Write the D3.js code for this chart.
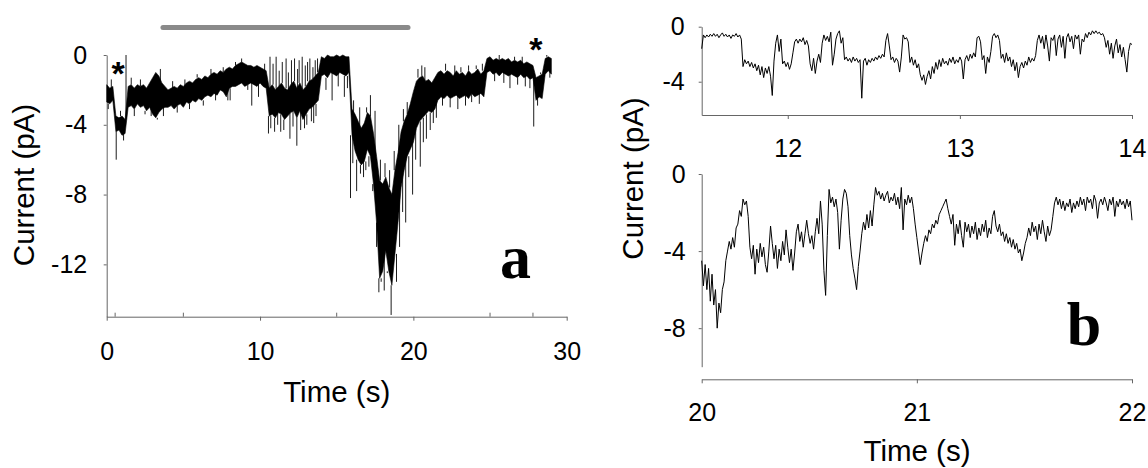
<!DOCTYPE html>
<html>
<head>
<meta charset="UTF-8">
<title>Current traces</title>
<script src="https://d3js.org/d3.v7.min.js"></script>
<style>
  body { margin: 0; background: #fff; }
  svg text { font-family: "Liberation Sans", Arial, sans-serif; fill: #000; }
  .panel-letter { font-family: "Liberation Serif", "Times New Roman", serif; font-weight: bold; }
</style>
</head>
<body>
<svg id="fig" width="1148" height="468"></svg>
<script>
const aStart = 0, aEnd = 29;
const aHigh = [
  -1.7,-1.9,-1.8,-3.5,-3.6,-3.5,-3.7,-1.8,-1.7,-1.9,
  -1.7,-1.8,-1.7,-1.9,-1.6,-1.3,-1.0,-1.2,-1.6,-1.8,
  -2.0,-1.9,-1.8,-1.9,-1.7,-1.8,-1.6,-1.5,-1.6,-1.4,
  -1.3,-1.4,-1.2,-1.3,-1.1,-1.0,-1.1,-0.9,-1.0,-0.8,
  -0.7,-0.8,-0.6,-0.5,-0.4,-0.5,-0.6,-0.6,-0.7,-0.6,
  -0.7,-0.8,-0.9,-1.9,-1.7,-2.0,-1.8,-1.6,-1.9,-2.0,
  -1.7,-1.5,-1.9,-1.6,-2.0,-1.8,-1.5,-1.4,-1.2,-1.0,
  -0.1,-0.2,0.0,-0.1,-0.1,0.0,-0.1,0.0,-0.1,-0.1,
  -3.1,-3.4,-3.8,-4.2,-3.9,-3.3,-3.5,-4.5,-5.8,-7.2,
  -7.4,-7.0,-7.6,-8.0,-6.6,-5.6,-4.4,-3.8,-3.4,-2.8,
  -2.1,-1.5,-1.3,-1.2,-1.5,-1.4,-1.6,-1.3,-1.0,-0.9,
  -1.1,-0.9,-1.0,-1.2,-0.9,-1.1,-1.0,-1.2,-0.9,-1.1,
  -1.0,-0.8,-1.1,-0.9,-0.2,-0.1,-0.3,-0.2,-0.3,-0.2,
  -0.3,-0.2,-0.4,-0.3,-0.4,-0.3,-0.5,-0.4,-0.5,-0.6,
  -1.3,-1.2,-1.1,-0.2,-0.1,-0.2
];
const aLow = [
  -2.7,-2.8,-2.6,-4.4,-4.3,-4.6,-4.5,-3.0,-2.9,-3.1,
  -2.8,-3.0,-2.9,-3.2,-3.0,-3.4,-3.6,-3.3,-3.1,-3.0,
  -3.0,-2.9,-3.1,-2.9,-2.8,-3.0,-2.7,-2.8,-2.6,-2.7,
  -2.5,-2.6,-2.4,-2.3,-2.4,-2.2,-2.3,-2.0,-2.1,-2.4,
  -1.9,-1.8,-1.8,-1.7,-1.6,-1.8,-1.7,-1.6,-1.7,-1.8,
  -1.6,-1.8,-1.9,-3.5,-3.4,-3.6,-3.3,-3.4,-3.7,-3.5,
  -3.3,-3.2,-3.6,-3.2,-3.7,-3.4,-3.1,-3.0,-2.8,-2.6,
  -1.2,-1.1,-1.3,-1.0,-1.1,-1.2,-1.0,-1.1,-1.2,-1.0,
  -4.6,-5.5,-6.0,-6.3,-6.1,-5.4,-5.8,-7.4,-9.6,-12.8,
  -12.4,-11.2,-12.4,-13.2,-11.4,-9.6,-7.6,-6.6,-5.8,-5.4,
  -5.0,-4.2,-3.8,-3.6,-3.4,-3.2,-3.3,-3.1,-2.6,-2.4,
  -2.5,-2.3,-2.5,-2.4,-2.3,-2.5,-2.4,-2.3,-2.5,-2.2,
  -2.4,-2.3,-2.2,-2.4,-1.0,-0.9,-1.1,-1.0,-1.2,-1.0,
  -1.1,-1.2,-1.1,-1.2,-1.3,-1.1,-1.3,-1.2,-1.4,-1.3,
  -2.6,-2.4,-2.5,-1.1,-0.9,-1.1
];
// single large excursions sticking out of the band
const aSpikeT = [
  0.1,0.3,0.62,0.9,1.1,1.26,1.6,1.8,2.2,2.5,
  2.9,3.3,3.5,3.7,4.3,4.6,5.1,5.4,5.9,6.3,
  6.8,7.1,7.6,7.9,8.05,8.4,8.8,9.2,9.46,9.9,
  10.3,10.55,10.65,10.7,10.85,10.95,11.05,11.15,11.25,11.35,
  11.45,11.55,11.7,11.85,11.95,12.05,12.15,12.25,12.4,12.45,
  12.55,12.65,12.75,12.9,12.95,13.05,13.1,13.25,13.35,13.45,
  13.5,13.6,13.65,13.75,14.3,14.7,15.1,15.5,15.7,15.9,
  16.05,16.1,16.3,16.5,16.55,16.75,16.9,16.95,17.1,17.2,
  17.35,17.5,17.6,17.75,17.85,17.9,18.1,18.15,18.3,18.45,
  18.55,18.7,18.75,18.9,19.05,19.1,19.3,19.35,19.5,19.6,
  19.7,19.95,20.15,20.3,20.45,20.55,20.65,20.75,20.85,21.1,
  21.3,21.5,21.9,22.1,22.4,22.7,22.9,23.1,23.4,23.6,
  23.8,24.1,24.3,24.5,25.3,25.6,25.9,26.3,26.6,26.8,
  27.1,27.3,27.6,27.85,28.1,28.3,28.7,28.9
];
const aSpikeV = [
  -3.1,-1.4,-6.0,-3.2,-4.9,0.0,-1.3,-3.5,-1.4,-3.4,
  -3.5,-3.7,-0.8,-3.5,-1.5,-3.3,-1.4,-3.1,-1.1,-2.9,
  -0.8,-2.6,-0.7,-2.6,-2.6,-0.4,-0.2,-2.0,-2.9,-2.4,
  -0.5,-4.5,-0.1,-4.2,-0.5,-4.4,-0.1,-4.0,-0.9,-4.4,
  -0.4,-4.3,-0.2,-1.0,-4.8,-0.3,-4.1,-0.2,-5.2,-0.8,
  -0.3,-4.3,-0.1,-4.2,-0.6,-4.0,-0.4,-0.2,-3.8,-0.7,
  -3.9,-0.3,-3.5,-0.2,-2.0,-2.6,-1.8,-2.4,-1.9,-8.2,
  -6.2,-2.6,-7.8,-3.0,-6.8,-7.0,-6.6,-3.0,-6.4,-2.3,
  -7.8,-3.2,-11.0,-13.6,-6.0,-13.0,-13.5,-6.2,-12.5,-6.6,
  -14.9,-13.2,-5.5,-13.0,-4.0,-11.0,-9.0,-3.1,-9.6,-2.7,
  -7.0,-8.0,-6.0,-0.8,-6.4,-0.6,-5.0,-0.7,-4.8,-4.3,
  -3.9,-3.6,-2.9,-0.5,-3.0,-0.6,-3.1,-0.7,-2.9,-0.6,
  -2.7,-0.6,-2.8,-0.5,-1.5,0.0,-1.6,-1.9,-0.1,-1.7,
  -0.1,-1.8,-1.9,-4.1,-2.9,-1.0,0.0,-1.3
];
const aBar = [3.67, 19.65];          // grey application bar (s)
const aEvents = [0.55, 27.8];        // asterisk events (s)
const aXTicks = [0, 10, 20, 30];
const aXMinor = [5, 15, 25];
const aYTicks = [0, -4, -8, -12];

// ---------- panel b (top) : 11.5 - 14 s, 0.01 s samples ----------
const bTopStart = 11.5, bTopEnd = 14;
const bTopV = [
  -1.6,-0.6,-0.8,-0.6,-0.75,-0.55,-0.7,-0.5,-0.7,-0.55,
  -0.8,-0.6,-0.45,-0.7,-0.55,-0.75,-0.6,-0.85,-0.6,-0.7,
  -0.5,-0.75,-0.6,-0.9,-2.9,-2.4,-2.7,-2.5,-2.9,-2.6,
  -3.0,-2.7,-3.2,-2.8,-3.5,-2.9,-3.7,-3.0,-3.4,-2.9,
  -3.6,-5.0,-2.5,-1.2,-0.6,-1.8,-0.9,-2.7,-2.5,-2.9,
  -2.6,-3.1,-2.7,-1.9,-1.1,-0.9,-1.2,-0.9,-1.1,-0.8,
  -1.3,-1.0,-1.4,-2.7,-3.2,-2.3,-3.4,-2.5,-2.0,-2.6,
  -1.2,-0.6,-1.0,-0.7,-1.1,-0.4,-2.8,-2.0,-0.9,-0.5,
  -0.3,-1.2,-0.8,-2.4,-2.2,-2.5,-2.3,-2.6,-2.2,-2.5,
  -2.3,-2.6,-2.4,-5.2,-2.5,-2.3,-2.8,-2.4,-2.6,-2.3,
  -2.5,-2.2,-2.4,-2.1,-2.3,-2.0,-2.2,-1.0,-0.5,-1.4,
  -2.4,-2.2,-2.6,-2.3,-2.5,-3.3,-2.2,-0.6,-0.9,-0.8,
  -1.1,-2.6,-2.2,-2.8,-2.4,-3.0,-2.7,-3.5,-3.9,-3.5,
  -4.2,-3.6,-3.2,-3.8,-2.9,-3.4,-2.6,-3.1,-2.4,-2.9,
  -2.3,-2.7,-2.5,-2.8,-2.3,-2.6,-2.2,-2.7,-2.4,-2.6,
  -2.2,-2.5,-3.8,-2.4,-2.1,-2.5,-2.0,-2.3,-1.9,-2.2,
  -0.8,-0.7,-1.1,-2.4,-2.1,-3.4,-2.2,-2.6,-1.8,-0.7,
  -0.5,-0.8,-0.6,-1.0,-2.3,-2.0,-2.6,-1.9,-2.5,-2.2,
  -2.9,-2.4,-3.2,-2.6,-3.7,-2.9,-2.6,-3.0,-2.5,-2.8,
  -2.2,-2.6,-2.3,-2.5,-2.1,-1.0,-0.6,-1.2,-0.7,-1.6,
  -0.6,-1.4,-2.5,-0.8,-1.0,-0.6,-2.1,-0.9,-0.6,-1.5,
  -0.7,-2.3,-0.8,-0.5,-1.1,-0.7,-1.6,-0.6,-0.9,-0.6,
  -2.0,-0.9,-1.1,-0.5,-0.8,-0.4,-0.6,-0.3,-0.5,-0.3,
  -0.5,-0.4,-0.6,-0.5,-0.8,-1.5,-1.0,-2.0,-1.2,-2.3,
  -1.4,-0.9,-1.9,-1.3,-2.2,-1.5,-2.4,-3.3,-1.8,-1.2,
  -1.3
];
const bTopXTicks = [12, 13, 14];
const bTopYTicks = [0, -4];

// ---------- panel b (bottom) : 20 - 22 s, 0.008 s samples ----------
const bBotStart = 20, bBotEnd = 22;
const bBotV = [
  -4.5,-5.8,-4.7,-6.0,-4.9,-6.6,-5.2,-6.8,-6.0,-8.0,
  -6.7,-7.2,-6.0,-5.6,-4.5,-4.0,-3.5,-3.9,-3.3,-3.8,
  -2.8,-2.6,-1.9,-2.2,-1.3,-1.6,-1.4,-2.2,-3.8,-4.4,
  -3.7,-5.2,-3.9,-4.6,-3.6,-4.3,-3.8,-4.7,-5.1,-4.0,
  -2.7,-3.6,-4.4,-3.7,-4.9,-3.9,-4.5,-3.5,-4.2,-2.9,
  -3.8,-4.6,-3.9,-5.0,-4.1,-3.0,-2.6,-3.5,-3.0,-3.8,
  -3.1,-2.4,-3.1,-3.6,-3.2,-3.9,-3.0,-2.3,-3.1,-1.4,
  -2.6,-5.0,-6.3,-3.2,-0.8,-1.5,-1.2,-1.7,-1.3,-2.0,
  -3.9,-2.4,-1.3,-0.8,-1.0,-1.7,-3.2,-4.2,-4.9,-5.4,
  -6.0,-4.8,-4.0,-3.1,-2.5,-2.9,-2.1,-2.8,-1.9,-2.7,
  -1.6,-0.7,-1.1,-0.9,-1.3,-1.0,-1.4,-1.1,-0.9,-1.5,
  -1.2,-1.4,-1.0,-1.6,-1.2,-1.8,-0.7,-2.9,-1.3,-1.6,
  -1.1,-1.5,-1.2,-1.8,-2.6,-3.3,-4.0,-4.7,-4.1,-3.6,
  -3.2,-3.5,-2.9,-3.1,-2.6,-2.8,-2.4,-2.6,-2.1,-1.9,
  -1.7,-1.5,-1.3,-1.8,-2.2,-2.6,-2.1,-3.7,-2.6,-3.1,
  -2.4,-3.2,-3.8,-2.5,-3.0,-2.6,-3.3,-2.7,-3.1,-2.5,
  -3.4,-2.8,-3.2,-2.6,-3.0,-2.4,-3.3,-2.8,-3.1,-2.2,
  -1.9,-2.7,-3.0,-2.6,-3.2,-3.0,-3.5,-3.1,-3.6,-3.3,
  -3.8,-3.4,-3.9,-3.6,-4.1,-3.9,-4.5,-4.1,-3.6,-3.3,
  -2.8,-3.2,-2.5,-3.0,-2.7,-3.4,-2.6,-3.1,-2.4,-3.0,
  -3.5,-2.7,-3.2,-2.9,-2.2,-1.5,-1.2,-1.6,-1.3,-1.8,
  -1.4,-1.9,-1.5,-1.7,-1.3,-2.0,-1.5,-1.8,-1.4,-1.7,
  -1.2,-1.6,-1.3,-1.9,-1.2,-1.5,-1.3,-1.8,-1.1,-1.4,
  -2.3,-1.5,-1.3,-1.6,-1.2,-1.5,-1.9,-1.3,-1.6,-1.2,
  -2.2,-1.4,-1.7,-1.3,-1.6,-1.4,-1.8,-1.3,-1.7,-1.4,
  -2.4
];
const bBotXTicks = [20, 21, 22];
const bBotYTicks = [0, -4, -8];

// ---------------------------------------------------------------------
const svg = d3.select("#fig");
const axisColor = "#666";
const fontFam = '"Liberation Sans", Arial, sans-serif';

function styleAxis(g) {
  g.attr("font-size", 25).attr("font-family", fontFam);
  g.select(".domain").attr("stroke", axisColor);
  g.selectAll(".tick line").attr("stroke", axisColor);
  g.selectAll(".tick text").attr("fill", "#000");
}
const fmt = d => String(d);
const times = (start, end, n) => d3.range(n).map(i => start + i * (end - start) / (n - 1));

// ===== panel a =====
const xA = d3.scaleLinear().domain([0, 30]).range([106.7, 566.7]);
const yA = d3.scaleLinear().domain([-15, 0]).range([316.7, 55]);
const aTimes = times(aStart, aEnd, aHigh.length);

svg.append("g")
  .attr("transform", "translate(0,316.7)")
  .call(d3.axisBottom(xA).tickValues(aXTicks).tickSize(4).tickSizeOuter(0)
        .tickPadding(21.5).tickFormat(fmt))
  .call(styleAxis);

svg.append("g")
  .attr("transform", "translate(106.7,0)")
  .call(d3.axisLeft(yA).tickValues(aYTicks).tickSize(3).tickSizeOuter(0)
        .tickPadding(16.5).tickFormat(fmt))
  .call(styleAxis);

// small upward ticks: minor seconds and the two event markers
svg.append("g").selectAll("line")
  .data(aXMinor.concat(aEvents))
  .join("line")
  .attr("x1", d => xA(d)).attr("x2", d => xA(d))
  .attr("y1", 316.7).attr("y2", 312.7)
  .attr("stroke", axisColor);

// grey bar
svg.append("line")
  .attr("x1", xA(aBar[0])).attr("x2", xA(aBar[1]))
  .attr("y1", 27.5).attr("y2", 27.5)
  .attr("stroke", "#8a8a8a").attr("stroke-width", 5)
  .attr("stroke-linecap", "round");

// noise band
const band = d3.area()
  .x((d, i) => xA(aTimes[i]))
  .y0((d, i) => yA(aLow[i]))
  .y1(d => yA(d));
svg.append("path")
  .datum(aHigh)
  .attr("d", band)
  .attr("fill", "#000")
  .attr("stroke", "#000")
  .attr("stroke-width", 0.6);

// spikes, each drawn from the edge of the band it leaves
const aBin = (aEnd - aStart) / (aHigh.length - 1);
svg.append("g").selectAll("line")
  .data(aSpikeT)
  .join("line")
  .attr("x1", d => xA(d)).attr("x2", d => xA(d))
  .attr("y1", (d, i) => {
    const k = Math.max(0, Math.min(aHigh.length - 1, Math.round((d - aStart) / aBin)));
    return yA(aSpikeV[i] > aHigh[k] ? aHigh[k] : aLow[k]);
  })
  .attr("y2", (d, i) => yA(aSpikeV[i]))
  .attr("stroke", "#000").attr("stroke-width", 0.9);

// asterisks
svg.append("text").attr("x", xA(aEvents[0]) + 3).attr("y", 85)
  .attr("text-anchor", "middle").attr("font-size", 34).attr("font-weight", "bold").text("*");
svg.append("text").attr("x", xA(aEvents[1]) + 3).attr("y", 60.5)
  .attr("text-anchor", "middle").attr("font-size", 34).attr("font-weight", "bold").text("*");

// titles a
svg.append("text")
  .attr("transform", "translate(34,185) rotate(-90)")
  .attr("text-anchor", "middle").attr("font-size", 29.5)
  .text("Current (pA)");
svg.append("text")
  .attr("x", 336.7).attr("y", 401.5)
  .attr("text-anchor", "middle").attr("font-size", 29.5)
  .text("Time (s)");
svg.append("text").attr("class", "panel-letter")
  .attr("x", 500).attr("y", 278.3).attr("font-size", 62).text("a");

// ===== panel b, top =====
const xB1 = d3.scaleLinear().domain([11.5, 14]).range([701.7, 1132]);
const yB1 = d3.scaleLinear().domain([-6.42, 0]).range([115, 26.7]);

svg.append("g")
  .attr("transform", "translate(0,115)")
  .call(d3.axisBottom(xB1).tickValues(bTopXTicks).tickSize(4).tickSizeOuter(0)
        .tickPadding(20).tickFormat(fmt))
  .call(styleAxis);
svg.append("g")
  .attr("transform", "translate(701.7,0)")
  .call(d3.axisLeft(yB1).tickValues(bTopYTicks).tickSize(3).tickSizeOuter(0)
        .tickPadding(14).tickFormat(fmt))
  .call(styleAxis);

const bTopT = times(bTopStart, bTopEnd, bTopV.length);
svg.append("path")
  .datum(bTopV)
  .attr("d", d3.line().x((d, i) => xB1(bTopT[i])).y(d => yB1(d)))
  .attr("fill", "none").attr("stroke", "#000").attr("stroke-width", 1);

// ===== panel b, bottom =====
const xB2 = d3.scaleLinear().domain([20, 22]).range([701.7, 1132]);
const yB2 = d3.scaleLinear().domain([-10, 0]).range([366.7, 174]);

svg.append("g")
  .attr("transform", "translate(0,379.3)")
  .call(d3.axisBottom(xB2).tickValues(bBotXTicks).tickSize(4).tickSizeOuter(0)
        .tickPadding(19.7).tickFormat(fmt))
  .call(styleAxis);
svg.append("g")
  .attr("transform", "translate(701.7,0)")
  .call(d3.axisLeft(yB2).tickValues(bBotYTicks).tickSize(3).tickSizeOuter(0)
        .tickPadding(13).tickFormat(fmt))
  .call(styleAxis);

const bBotT = times(bBotStart, bBotEnd, bBotV.length);
svg.append("path")
  .datum(bBotV)
  .attr("d", d3.line().x((d, i) => xB2(bBotT[i])).y(d => yB2(d)))
  .attr("fill", "none").attr("stroke", "#000").attr("stroke-width", 1);

// titles b
svg.append("text")
  .attr("transform", "translate(643,178.5) rotate(-90)")
  .attr("text-anchor", "middle").attr("font-size", 29.5)
  .text("Current (pA)");
svg.append("text")
  .attr("x", 917).attr("y", 461)
  .attr("text-anchor", "middle").attr("font-size", 29.5)
  .text("Time (s)");
svg.append("text").attr("class", "panel-letter")
  .attr("x", 1066.7).attr("y", 345).attr("font-size", 62).text("b");
</script>
</body>
</html>
